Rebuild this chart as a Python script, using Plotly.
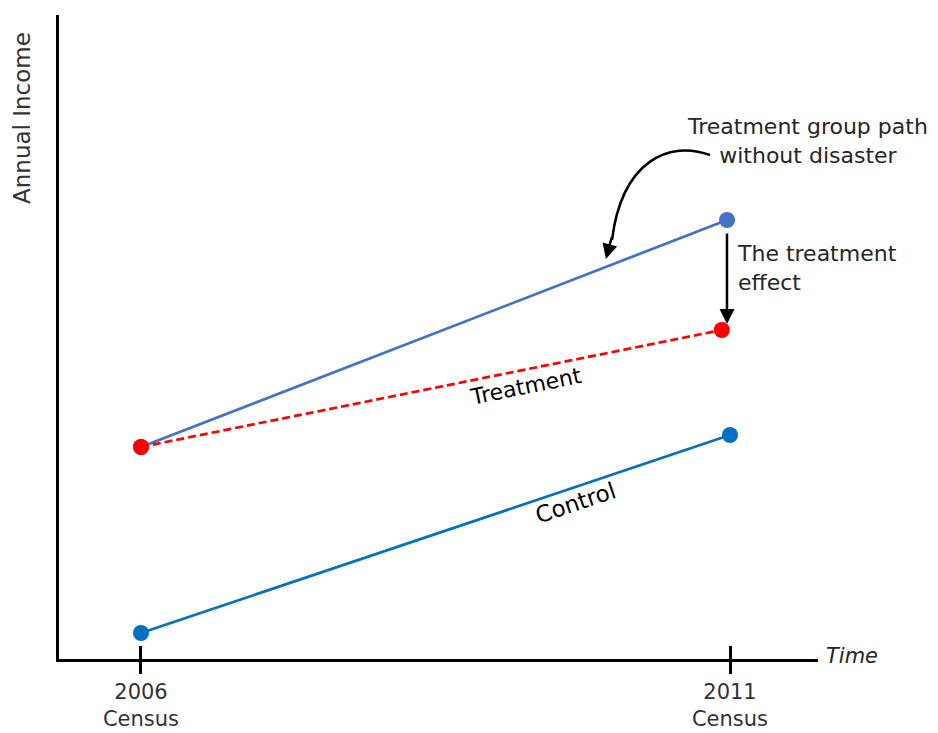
import plotly.graph_objects as go

# ---- data ----
years = [2006, 2011]
control = [2.6, 22.4]
treatment_x = [2006, 2010.93]
treatment = [21.2, 32.9]
counterfactual_x = [2006, 2010.975]
counterfactual = [21.2, 43.9]
tick_vals = [2006, 2011]
tick_text = ["2006<br>Census", "2011<br>Census"]

# ---- layout geometry (page pixel targets) ----
W, H = 938, 733
OFF = 8  # page body margin
PL, PR, PT, PB = 59, 818, 15, 659
L, T = PL - OFF, PT - OFF
R = W - (PR - OFF)
B = H - (PB - OFF)
XR = [2005.304, 2011.747]
YR = [0, 64.4]
FONT = "DejaVu Sans"
TXT = "#262626"

def px2x(px):
    return XR[0] + (px - PL) / (PR - PL) * (XR[1] - XR[0])

def py2y(py):
    return YR[0] + (PB - py) / (PB - PT) * (YR[1] - YR[0])

def px2p(px):
    return (px - PL) / (PR - PL)

def py2p(py):
    return (PB - py) / (PB - PT)

fig = go.Figure()
fig.add_trace(go.Scatter(x=years, y=control, mode="lines+markers",
                         line=dict(color="#0070C0", width=2.7),
                         marker=dict(size=16, color="#0070C0"), showlegend=False))
fig.add_trace(go.Scatter(x=counterfactual_x, y=counterfactual, mode="lines+markers",
                         line=dict(color="#4472C4", width=2.7),
                         marker=dict(size=16, color="#4472C4"), showlegend=False))
fig.add_trace(go.Scatter(x=treatment_x, y=treatment, mode="lines+markers",
                         line=dict(color="#FF0000", width=2.7, dash="8px,4px"),
                         marker=dict(size=16, color="#FF0000"), showlegend=False))

# curved arrow path (Treatment group path without disaster)
path = "M {:.4f},{:.4f} C {:.4f},{:.4f} {:.4f},{:.4f} {:.4f},{:.4f}".format(
    px2x(710), py2y(155), px2x(670), py2y(140), px2x(622), py2y(160), px2x(612), py2y(240))
fig.add_shape(type="path", path=path, xref="x", yref="y",
              line=dict(color="black", width=2.5))

annos = [
    dict(x=px2x(606), y=py2y(259), ax=px2x(612), ay=py2y(236), axref="x", ayref="y",
         xref="x", yref="y", showarrow=True, arrowhead=2, arrowsize=1.2, arrowwidth=2.5,
         arrowcolor="black", text=""),
    dict(x=px2x(727), y=py2y(324), ax=px2x(727), ay=py2y(232), axref="x", ayref="y",
         xref="x", yref="y", showarrow=True, arrowhead=2, arrowsize=1.2, arrowwidth=2.5,
         arrowcolor="black", text=""),
    dict(x=px2p(807), y=py2p(141), xref="paper", yref="paper", showarrow=False,
         xanchor="center", yanchor="middle",
         text="Treatment group path<br>without disaster", align="center",
         font=dict(size=22, color=TXT, family=FONT)),
    dict(x=px2x(735), y=py2y(268), xref="x", yref="y", showarrow=False,
         xanchor="left", yanchor="middle",
         text="The treatment<br>effect", align="left",
         font=dict(size=22, color=TXT, family=FONT)),
    dict(x=px2x(525), y=py2y(386), xref="x", yref="y", showarrow=False,
         text="Treatment", textangle=-11.4,
         font=dict(size=22, color="black", family=FONT)),
    dict(x=px2x(575), y=py2y(503), xref="x", yref="y", showarrow=False,
         text="Control", textangle=-18.6,
         font=dict(size=23, color="black", family=FONT)),
    dict(x=px2p(824), y=py2p(656), xref="paper", yref="paper", showarrow=False,
         xanchor="left", yanchor="middle",
         text="<i>Time</i>", font=dict(size=21, color=TXT, family=FONT)),
    dict(x=px2p(22), y=py2p(118), xref="paper", yref="paper", showarrow=False,
         xanchor="center", yanchor="middle",
         text="Annual Income", textangle=-90,
         font=dict(size=23, color="#333", family=FONT)),
]

fig.update_layout(
    width=W, height=H, margin=dict(l=L, r=R, t=T, b=B),
    paper_bgcolor="white", plot_bgcolor="white",
    annotations=annos,
    xaxis=dict(range=XR, showgrid=False, zeroline=False, showline=True,
               linecolor="black", linewidth=2.5, ticks="outside", ticklen=12,
               tickwidth=2.5, tickcolor="black", tickvals=tick_vals, ticktext=tick_text,
               tickfont=dict(size=21, color="#333", family=FONT)),
    xaxis2=dict(range=XR, overlaying="x", side="bottom", showgrid=False, zeroline=False,
                ticks="inside", ticklen=13, tickwidth=2.5, tickcolor="black",
                tickvals=tick_vals, showticklabels=False, showline=False),
    yaxis=dict(range=YR, showgrid=False, zeroline=False, showline=True,
               linecolor="black", linewidth=2.5, showticklabels=False, ticks=""),
)
# invisible helper trace so the second x axis draws its inner tick marks
fig.add_trace(go.Scatter(x=[XR[0]], y=[YR[0]], xaxis="x2", mode="markers",
                         marker=dict(opacity=0), showlegend=False, hoverinfo="skip"))

fig.write_html("out.html")
